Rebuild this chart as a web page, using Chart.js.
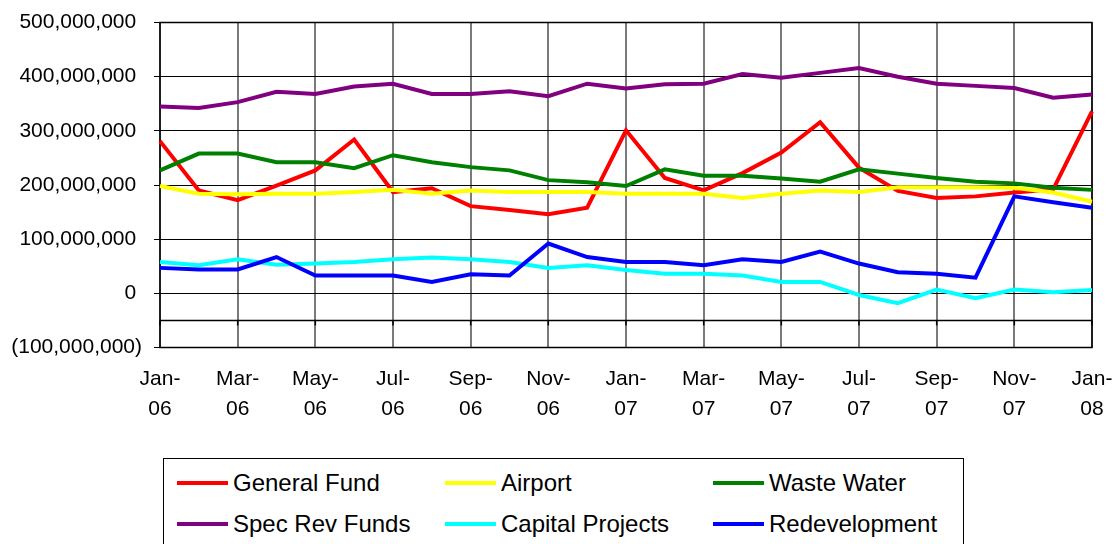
<!DOCTYPE html>
<html>
<head>
<meta charset="utf-8">
<script src="https://cdn.jsdelivr.net/npm/chart.js@4.4.1/dist/chart.umd.min.js"></script>
<style>
  html, body { margin: 0; padding: 0; background: #fff; }
  #wrap { position: relative; width: 1115px; height: 544px; overflow: hidden; }
  #c { position: absolute; left: 0; top: 0; }
  #legend { position: absolute; left: 163px; top: 458px; width: 801px; height: 100px;
            border: 1px solid #000; box-sizing: border-box; background: #fff;
            font-family: 'Liberation Sans', Arial, sans-serif; font-size: 24px; color: #000; }
  .item { position: absolute; height: 30px; white-space: nowrap; }
  .swatch { position: absolute; width: 51px; height: 4px; }
  .txt { position: absolute; line-height: 30px; }
</style>
</head>
<body>
<div id="wrap">
  <canvas id="c" width="1115" height="544"></canvas>
  <div id="legend"></div>
</div>
<script>
const months = ['Jan-06','Feb-06','Mar-06','Apr-06','May-06','Jun-06','Jul-06','Aug-06','Sep-06','Oct-06','Nov-06','Dec-06',
                'Jan-07','Feb-07','Mar-07','Apr-07','May-07','Jun-07','Jul-07','Aug-07','Sep-07','Oct-07','Nov-07','Dec-07','Jan-08'];

const generalFund = [281000000,190000000,172000000,199000000,227000000,284000000,187000000,194000000,161000000,154000000,146000000,158000000,
                     301000000,213000000,190000000,222000000,260000000,316000000,232000000,189000000,176000000,179000000,186000000,192000000,336000000];
const airport = [198000000,184000000,183000000,184000000,184000000,187000000,191000000,184000000,190000000,187000000,187000000,187000000,
                 184000000,184000000,184000000,176000000,184000000,190000000,187000000,196000000,196000000,196000000,195000000,186000000,169000000];
const wasteWater = [227000000,258000000,258000000,242000000,242000000,231000000,255000000,242000000,233000000,227000000,209000000,205000000,
                    198000000,229000000,217000000,217000000,212000000,206000000,229000000,221000000,213000000,206000000,203000000,195000000,191000000];
const specRevFunds = [345000000,342000000,353000000,372000000,368000000,382000000,387000000,368000000,368000000,373000000,364000000,387000000,
                      378000000,386000000,387000000,405000000,398000000,407000000,416000000,400000000,387000000,383000000,379000000,361000000,367000000];
const capitalProjects = [58000000,52000000,63000000,53000000,55000000,58000000,63000000,66000000,63000000,58000000,47000000,52000000,
                         43000000,36000000,36000000,33000000,21000000,21000000,-3000000,-18000000,7000000,-9000000,7000000,2000000,6000000];
const redevelopment = [47000000,44000000,44000000,67000000,33000000,33000000,33000000,21000000,35000000,33000000,92000000,67000000,
                       58000000,58000000,52000000,63000000,58000000,77000000,55000000,39000000,36000000,29000000,179000000,168000000,158000000];

const seriesNames = ['General Fund','Airport','Waste Water','Spec Rev Funds','Capital Projects','Redevelopment'];
const seriesColors = ['#FF0000','#FFFF00','#008000','#800080','#00FFFF','#0000FF'];
const seriesData = [generalFund, airport, wasteWater, specRevFunds, capitalProjects, redevelopment];

const yMin = -100000000, yMax = 500000000, yStep = 100000000;
const axisCross = -50000000;

const FONT = "'Liberation Sans', Arial, sans-serif";

function fmt(v) {
  const s = Math.abs(v).toLocaleString('en-US');
  if (v < 0) return '(' + s + ')';
  return s + ' ';
}

const frame = {
  id: 'frame',
  beforeDatasetsDraw(chart) {
    const { ctx, chartArea: a, scales } = chart;
    const y = scales.y.getPixelForValue(axisCross);
    ctx.save();
    ctx.strokeStyle = '#000';
    ctx.lineWidth = 1.5;
    ctx.beginPath();
    ctx.moveTo(a.left, y); ctx.lineTo(a.right, y);
    ctx.stroke();
    scales.x.ticks.forEach((t, i) => {
      if (i % 2) return;
      const x = scales.x.getPixelForValue(i);
      ctx.beginPath(); ctx.moveTo(x, y); ctx.lineTo(x, y + 5); ctx.stroke();
    });
    ctx.strokeRect(a.left, a.top, a.right - a.left, a.bottom - a.top);
    ctx.restore();
  }
};

const datasets = seriesNames.map((n, i) => ({
  label: n,
  data: seriesData[i],
  borderColor: seriesColors[i],
  backgroundColor: seriesColors[i],
  borderWidth: 4,
  pointRadius: 0,
  tension: 0,
  fill: false,
  order: seriesNames.length - i
}));

new Chart(document.getElementById('c'), {
  type: 'line',
  data: { labels: months, datasets },
  plugins: [frame],
  options: {
    responsive: false,
    animation: false,
    layout: { padding: { top: 22.5, right: 23, left: 0, bottom: 0 } },
    plugins: { legend: { display: false }, tooltip: { enabled: false } },
    scales: {
      x: {
        type: 'category',
        offset: false,
        border: { display: false },
        grid: {
          drawTicks: false,
          tickLength: 0,
          lineWidth: 2,
          color: ctx => (ctx.index % 2 === 0 ? '#7a7a7a' : 'rgba(0,0,0,0)')
        },
        ticks: {
          autoSkip: false,
          maxRotation: 0,
          minRotation: 0,
          padding: 17,
          color: '#000',
          font: { family: FONT, size: 21, lineHeight: 1.43 },
          callback: function (v, i) {
            if (i % 2) return '';
            const s = months[i].split('-');
            return [s[0] + '-', s[1]];
          }
        },
        afterFit: s => { s.height = 196.5; s.paddingLeft = 0; s.paddingRight = 0; }
      },
      y: {
        min: yMin,
        max: yMax,
        border: { display: false },
        grid: { color: '#000', lineWidth: 1, tickLength: 6, drawTicks: true },
        ticks: {
          stepSize: yStep,
          padding: 12,
          color: '#000',
          font: { family: FONT, size: 21 },
          callback: v => fmt(v)
        },
        afterFit: s => { s.width = 160; s.paddingTop = 0; s.paddingBottom = 0; }
      }
    }
  }
});

// HTML legend (3 columns x 2 rows)
const legend = document.getElementById('legend');
const colW = 268, rowH = 41, swLeft = 13, txtLeft = 69, row0 = 9;
seriesNames.forEach((n, i) => {
  const col = i % 3, row = Math.floor(i / 3);
  const it = document.createElement('div');
  it.className = 'item';
  it.style.left = (col * colW) + 'px';
  it.style.top = (row0 + row * rowH) + 'px';
  const sw = document.createElement('div');
  sw.className = 'swatch';
  sw.style.left = swLeft + 'px';
  sw.style.top = '13px';
  sw.style.background = seriesColors[i];
  const tx = document.createElement('div');
  tx.className = 'txt';
  tx.style.left = txtLeft + 'px';
  tx.style.top = '0px';
  tx.textContent = n;
  it.appendChild(sw); it.appendChild(tx);
  legend.appendChild(it);
});
</script>
</body>
</html>
